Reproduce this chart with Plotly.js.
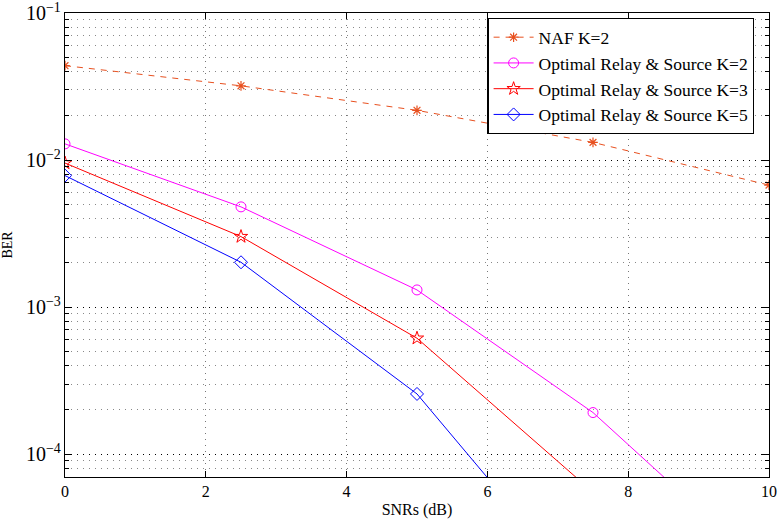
<!DOCTYPE html>
<html><head><meta charset="utf-8">
<script src="https://cdn.plot.ly/plotly-3.0.1.min.js"></script>
<style>body{margin:0;background:#fff}#c{width:778px;height:526px}</style>
</head><body><div id="c"></div>
<script>
const snr = [0, 2.5, 5, 7.5, 10];
const nafK2 = [0.0439, 0.032, 0.0218, 0.0132, 0.00676];
const optK2 = [0.0129, 0.00481, 0.00131, 0.000192, 0.0000156];
const snrK3 = [0, 2.5, 5, 7.5];
const optK3 = [0.00955, 0.00302, 0.000615, 0.0000552];
const snrK5 = [0, 2.5, 5, 7.5];
const optK5 = [0.00785, 0.00202, 0.000257, 0.0000097];
const names = ['NAF K=2', 'Optimal Relay & Source K=2', 'Optimal Relay & Source K=3', 'Optimal Relay & Source K=5'];

const serif = 'Liberation Serif, Times New Roman, serif';
const traces = [
  {x: snr, y: nafK2, name: names[0], mode: 'lines+markers',
   line: {color: '#e8501f', dash: '6px,6px', width: 1},
   marker: {symbol: 'asterisk-open', size: 8, color: '#e8501f', line: {color: '#e8501f', width: 1.2}}},
  {x: snr, y: optK2, name: names[1], mode: 'lines+markers',
   line: {color: '#ff00ff', width: 1},
   marker: {symbol: 'circle-open', size: 10, color: '#ff00ff', line: {color: '#ff00ff', width: 1}}},
  {x: snrK3, y: optK3, name: names[2], mode: 'lines+markers',
   line: {color: '#ff0000', width: 1},
   marker: {symbol: 'star-open', size: 10, color: '#ff0000', line: {color: '#ff0000', width: 1}}},
  {x: snrK5, y: optK5, name: names[3], mode: 'lines+markers',
   line: {color: '#0000ff', width: 1},
   marker: {symbol: 'diamond-open', size: 10, color: '#0000ff', line: {color: '#0000ff', width: 1}}}
];

const layout = {
  width: 778, height: 526,
  margin: {l: 65, r: 9, t: 13, b: 49},
  paper_bgcolor: '#fff', plot_bgcolor: '#fff',
  font: {family: serif, size: 16, color: '#000'},
  showlegend: true,
  legend: {x: 0.6, y: 0.989, xanchor: 'left', yanchor: 'top',
    bgcolor: '#fff', bordercolor: '#000', borderwidth: 1.2,
    font: {family: serif, size: 17.5, color: '#000'}, tracegroupgap: 0, itemwidth: 40},
  xaxis: {range: [0, 10], dtick: 2, tick0: 0,
    showline: true, linecolor: '#000', linewidth: 1, mirror: 'ticks',
    ticks: 'inside', ticklen: 6, tickcolor: '#000',
    showgrid: true, gridcolor: '#777', griddash: '1px,5px', gridwidth: 1,
    zeroline: false,
    title: {text: 'SNRs (dB)', font: {family: serif, size: 16}, standoff: 4},
    tickfont: {family: serif, size: 16}},
  yaxis: {type: 'log', range: [Math.log10(7e-5), -0.9995], dtick: 1,
    exponentformat: 'power', ticklabeloverflow: 'allow',
    showline: true, linecolor: '#000', linewidth: 1, mirror: 'ticks',
    ticks: 'inside', ticklen: 7, tickcolor: '#000',
    showgrid: true, gridcolor: '#000', griddash: '1px,5px', gridwidth: 1,
    minor: {ticks: 'inside', ticklen: 4, tickcolor: '#000', showgrid: true, gridcolor: '#888', griddash: '1px,5px', gridwidth: 1},
    zeroline: false,
    title: {text: 'BER', font: {family: serif, size: 14}, standoff: 18},
    tickfont: {family: serif, size: 16}}
};
Plotly.newPlot('c', traces, layout, {displayModeBar: false, staticPlot: true});
</script></body></html>
